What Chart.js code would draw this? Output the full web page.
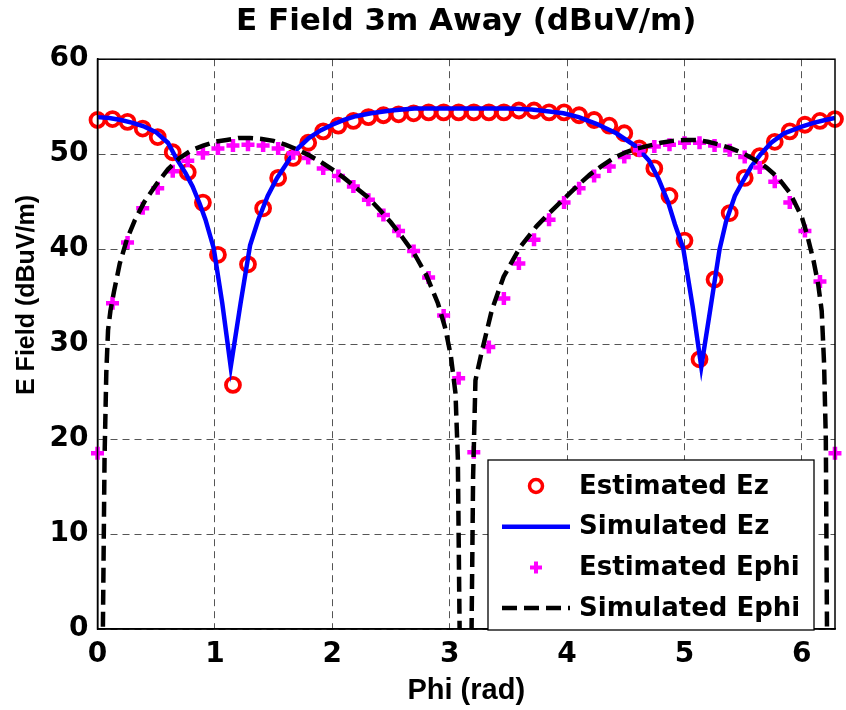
<!DOCTYPE html>
<html>
<head>
<meta charset="utf-8">
<script src="https://cdn.jsdelivr.net/npm/chart.js@4.4.1/dist/chart.umd.min.js"></script>
<style>
  html, body { margin: 0; padding: 0; background: #fff; }
  #wrap { width: 846px; height: 710px; }
</style>
</head>
<body>
<div id="wrap"><canvas id="chart" width="846" height="710"></canvas></div>
<script>
// estimated samples (phi in rad)
const phi = [0, 0.128, 0.256, 0.385, 0.513, 0.641, 0.769, 0.898, 1.026, 1.154,
  1.282, 1.411, 1.539, 1.667, 1.795, 1.923, 2.052, 2.180, 2.308, 2.436,
  2.565, 2.693, 2.821, 2.949, 3.077, 3.206, 3.334, 3.462, 3.590, 3.719,
  3.847, 3.975, 4.103, 4.231, 4.360, 4.488, 4.616, 4.744, 4.873, 5.001,
  5.129, 5.257, 5.386, 5.514, 5.642, 5.770, 5.898, 6.027, 6.155, 6.283];

const estEz = [53.6, 53.7, 53.4, 52.7, 51.8, 50.2, 48.1, 44.9, 39.4, 25.7,
  38.4, 44.3, 47.5, 49.6, 51.2, 52.4, 53.0, 53.5, 53.9, 54.1,
  54.2, 54.3, 54.4, 54.4, 54.4, 54.4, 54.4, 54.4, 54.6, 54.6,
  54.4, 54.4, 54.1, 53.6, 53.0, 52.2, 50.6, 48.5, 45.6, 40.9,
  28.4, 36.8, 43.8, 47.5, 49.8, 51.3, 52.4, 53.1, 53.5, 53.7];

const estEphi = [18.5, 34.3, 40.7, 44.3, 46.4, 48.2, 49.3, 50.1, 50.6, 50.9,
  51.0, 50.9, 50.6, 50.1, 49.6, 48.5, 47.7, 46.6, 45.2, 43.6,
  41.9, 39.8, 37.0, 33.0, 26.4, 18.6, 29.7, 34.8, 38.5, 41.0,
  43.1, 44.9, 46.4, 47.7, 48.7, 49.7, 50.4, 50.8, 51.0, 51.2,
  51.2, 50.9, 50.4, 49.7, 48.6, 47.1, 44.9, 41.9, 36.6, 18.5];

// simulated curves
const simEzPhi = [0, 0.1, 0.2, 0.3, 0.4, 0.5, 0.6, 0.67, 0.75, 0.81, 0.87, 0.92, 0.99,
  1.063, 1.135, 1.219, 1.30, 1.37, 1.45, 1.53, 1.6, 1.68, 1.8, 1.9, 2.0, 2.1, 2.2,
  2.33, 2.5, 2.7, 3.0, 3.5, 3.7, 3.85, 3.97, 4.1, 4.25, 4.42, 4.59, 4.7, 4.78,
  4.86, 4.92, 4.99, 5.07, 5.144, 5.22, 5.26, 5.30, 5.355, 5.43, 5.5, 5.57, 5.65,
  5.74, 5.85, 6.0, 6.1, 6.2, 6.283];
const simEz = [53.9, 53.8, 53.6, 53.3, 52.9, 52.3, 51.2, 49.6, 48.0, 46.6, 44.8, 43.1, 40.1,
  34.3, 27.6, 34.3, 40.4, 43.1, 45.6, 47.5, 48.8, 50.3, 51.7, 52.5, 53.1, 53.6, 54.0,
  54.3, 54.6, 54.8, 54.8, 54.8, 54.7, 54.5, 54.3, 53.9, 53.2, 52.2, 50.8, 49.3, 47.4,
  45.0, 42.6, 40.1, 34.0, 27.6, 33.6, 36.8, 40.0, 42.9, 45.6, 47.2, 48.7, 50.0,
  51.2, 52.2, 52.9, 53.3, 53.6, 53.8];

const simEphiPhi = [0, 0.046, 0.06, 0.075, 0.09, 0.11, 0.14, 0.19, 0.25, 0.32, 0.4, 0.5,
  0.6, 0.7, 0.8, 0.9, 1.0, 1.1, 1.2, 1.3, 1.4, 1.5, 1.6, 1.7, 1.8, 1.9, 2.0,
  2.1, 2.2, 2.3, 2.4, 2.5, 2.6, 2.7, 2.8, 2.9, 2.96, 3.01, 3.05, 3.07, 3.085, 3.14,
  3.187, 3.2, 3.22, 3.27, 3.36, 3.46, 3.6, 3.74, 3.85, 4.0, 4.1, 4.2, 4.3, 4.4,
  4.5, 4.6, 4.7, 4.8, 4.9, 5.0, 5.1, 5.2, 5.3, 5.4, 5.5, 5.6, 5.7, 5.8, 5.9,
  6.0, 6.05, 6.1, 6.14, 6.17, 6.19, 6.205, 6.215, 6.283];
const simEphi = [-60, 0, 18, 27, 31.5, 33.5, 35.5, 38.5, 41.0, 43.1, 45.0, 46.8,
  48.4, 49.6, 50.4, 50.9, 51.3, 51.5, 51.7, 51.7, 51.6, 51.4, 51.0, 50.5, 49.9, 49.2, 48.4,
  47.5, 46.5, 45.5, 44.2, 42.8, 41.2, 39.5, 37.3, 34.3, 31.8, 28.8, 24.8, 18, 0, -60,
  0, 16, 26.2, 29.0, 33.6, 37.1, 40.2, 42.4, 43.8, 45.6, 46.8, 47.9, 48.8, 49.6,
  50.2, 50.6, 50.9, 51.2, 51.4, 51.5, 51.5, 51.3, 51.0, 50.6, 50.1, 49.4, 48.6, 47.5, 45.9,
  43.4, 41.3, 38.8, 36.3, 33.5, 28.0, 20.0, 0, -60];

const seriesNames = ['Estimated Ez', 'Simulated Ez', 'Estimated Ephi', 'Simulated Ephi'];

const pts = (xs, ys) => xs.map((x, i) => ({ x: x, y: ys[i] }));

// y label sits above axis centre in the original, so draw it by hand
const yLabelPlugin = {
  id: 'yLabel',
  afterDraw(chart) {
    const ctx = chart.ctx;
    ctx.save();
    ctx.translate(27, 295);
    ctx.rotate(-Math.PI / 2);
    ctx.font = 'bold 25px "Liberation Sans", Arial, sans-serif';
    ctx.fillStyle = '#000';
    ctx.textAlign = 'center';
    ctx.textBaseline = 'middle';
    ctx.fillText('E Field (dBuV/m)', 0, 0);
    ctx.restore();
  }
};

// axes box + legend inside the plot area
const boxLegendPlugin = {
  id: 'boxLegend',
  afterDatasetsDraw(chart) {
    const ctx = chart.ctx;
    const a = chart.chartArea;
    ctx.save();
    ctx.strokeStyle = '#000';
    ctx.lineWidth = 1.5;
    ctx.strokeRect(a.left, a.top, a.right - a.left, a.bottom - a.top);

    const w = 326, h = 170;
    const bx = a.right - 21 - w, by = a.bottom + 1 - h;
    ctx.fillStyle = '#fff';
    ctx.fillRect(bx, by, w, h);
    ctx.lineWidth = 1.3;
    ctx.strokeRect(bx, by, w, h);

    ctx.font = 'bold 26px "DejaVu Sans", sans-serif';
    ctx.textBaseline = 'middle';
    ctx.textAlign = 'left';
    seriesNames.forEach((name, k) => {
      const y = by + 26 + k * 40.7;
      const cx = bx + 48;
      if (k === 0) {
        ctx.strokeStyle = '#ff0000';
        ctx.lineWidth = 3.5;
        ctx.beginPath();
        ctx.arc(cx, y, 6.5, 0, Math.PI * 2);
        ctx.stroke();
      } else if (k === 2) {
        ctx.strokeStyle = '#ff00ff';
        ctx.lineWidth = 4;
        ctx.beginPath();
        ctx.moveTo(cx - 6, y); ctx.lineTo(cx + 6, y);
        ctx.moveTo(cx, y - 6); ctx.lineTo(cx, y + 6);
        ctx.stroke();
      } else {
        ctx.strokeStyle = k === 1 ? '#0000ff' : '#000';
        ctx.lineWidth = 4.5;
        ctx.setLineDash(k === 3 ? [15, 7] : []);
        ctx.beginPath();
        ctx.moveTo(bx + 14, y); ctx.lineTo(bx + 82, y);
        ctx.stroke();
        ctx.setLineDash([]);
      }
      ctx.fillStyle = '#000';
      ctx.fillText(name, bx + 91, y + 1);
    });
    ctx.restore();
  }
};

new Chart(document.getElementById('chart'), {
  type: 'line',
  data: {
    datasets: [
      {
        label: seriesNames[0],
        data: pts(phi, estEz),
        showLine: false,
        pointStyle: 'circle',
        pointRadius: 7,
        pointBorderWidth: 3.8,
        pointBorderColor: '#ff0000',
        pointBackgroundColor: 'rgba(0,0,0,0)',
        clip: false,
        order: 4
      },
      {
        label: seriesNames[1],
        data: pts(simEzPhi, simEz),
        borderColor: '#0000ff',
        borderWidth: 4.5,
        pointRadius: 0,
        tension: 0,
        order: 3
      },
      {
        label: seriesNames[2],
        data: pts(phi, estEphi),
        showLine: false,
        pointStyle: 'cross',
        pointRadius: 6.5,
        pointBorderWidth: 4.5,
        pointBorderColor: '#ff00ff',
        clip: false,
        order: 2
      },
      {
        label: seriesNames[3],
        data: pts(simEphiPhi, simEphi),
        borderColor: '#000',
        borderWidth: 4.5,
        borderDash: [15, 7],
        pointRadius: 0,
        tension: 0,
        clip: 0,
        order: 1
      }
    ]
  },
  options: {
    responsive: false,
    animation: false,
    layout: { padding: { left: 0, right: 4.3, top: 0, bottom: 0 } },
    plugins: {
      legend: { display: false },
      tooltip: { enabled: false },
      title: {
        display: true,
        text: 'E Field 3m Away (dBuV/m)',
        fullSize: false,
        color: '#000',
        font: { family: '"DejaVu Sans", sans-serif', size: 31, weight: 'bold', lineHeight: 1.2 },
        padding: { top: 3, bottom: 19 }
      }
    },
    scales: {
      x: {
        type: 'linear',
        min: 0,
        max: 6.2832,
        afterFit(s) { s.height = 81; },
        afterBuildTicks(s) { s.ticks = [0, 1, 2, 3, 4, 5, 6].map(v => ({ value: v })); },
        ticks: {
          color: '#000',
          padding: 9,
          maxRotation: 0,
          font: { family: '"DejaVu Sans", sans-serif', size: 28, weight: 'bold' }
        },
        grid: { color: '#555', lineWidth: 1, drawTicks: false },
        border: { display: true, color: '#000', width: 1.5, dash: [7, 5] },
        title: {
          display: true,
          text: 'Phi (rad)',
          color: '#000',
          font: { family: '"Liberation Sans", Arial, sans-serif', size: 29, weight: 'bold', lineHeight: 1.2 },
          padding: { top: 0, bottom: 2 }
        }
      },
      y: {
        min: 0,
        max: 60,
        afterFit(s) { s.width = 97.5; },
        ticks: {
          stepSize: 10,
          color: '#000',
          padding: 9,
          font: { family: '"DejaVu Sans", sans-serif', size: 28, weight: 'bold' }
        },
        grid: { color: '#555', lineWidth: 1, drawTicks: false },
        border: { display: true, color: '#000', width: 1.5, dash: [7, 5] }
      }
    }
  },
  plugins: [yLabelPlugin, boxLegendPlugin]
});
</script>
</body>
</html>
